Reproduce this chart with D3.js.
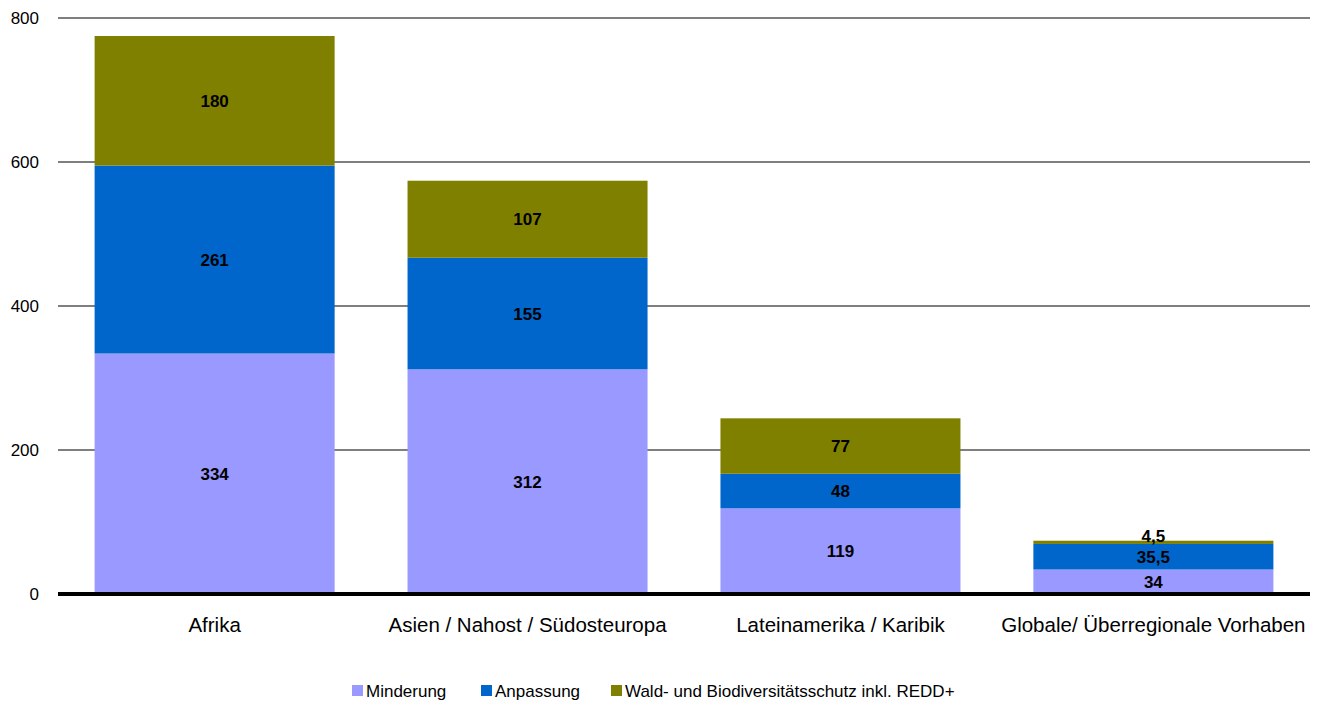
<!DOCTYPE html>
<head>
  <meta charset="utf-8">
  <style>
    body { margin: 0; background: #fff; }
    text { font-family: "Liberation Sans", Arial, sans-serif; }
    .val { font-family: "Liberation Sans Narrow", "Liberation Sans", Arial, sans-serif; font-weight: bold; font-size: 17px; text-anchor: middle; }
  </style>
</head>
<body>
  <script src="https://cdn.jsdelivr.net/npm/d3@7/dist/d3.min.js"></script>
  <script>
    var categories = ["Afrika", "Asien / Nahost / Südosteuropa", "Lateinamerika / Karibik", "Globale/ Überregionale Vorhaben"];
    var seriesNames = ["Minderung", "Anpassung", "Wald- und Biodiversitätsschutz inkl. REDD+"];
    var minderung = [334, 312, 119, 34];
    var anpassung = [261, 155, 48, 35.5];
    var wald = [180, 107, 77, 4.5];
    var yTicks = [0, 200, 400, 600, 800];
    var colors = ["#9999FF", "#0066CC", "#808000"];

    var width = 1325, height = 706;
    var plotLeft = 58, plotRight = 1310, plotTop = 18, plotBottom = 594;

    var svg = d3.select("body").append("svg")
      .attr("width", width)
      .attr("height", height);

    var x = d3.scaleBand()
      .domain(categories)
      .range([plotLeft, plotRight])
      .paddingInner(0.233)
      .paddingOuter(0.117);
    var y = d3.scaleLinear()
      .domain([0, 800])
      .range([plotBottom, plotTop]);

    // gridlines
    svg.append("g")
      .selectAll("line")
      .data(yTicks.slice(1))
      .enter().append("line")
      .attr("x1", plotLeft).attr("x2", plotRight)
      .attr("y1", function(d) { return y(d); })
      .attr("y2", function(d) { return y(d); })
      .attr("stroke", "#555")
      .attr("stroke-width", 1.3);

    // y tick labels
    svg.append("g")
      .selectAll("text")
      .data(yTicks)
      .enter().append("text")
      .attr("x", 39)
      .attr("y", function(d) { return y(d) + 6; })
      .attr("text-anchor", "end")
      .style("font-size", "17px")
      .text(function(d) { return d; });

    // stack
    var rows = categories.map(function(c, i) {
      return { cat: c, s0: minderung[i], s1: anpassung[i], s2: wald[i] };
    });
    var stack = d3.stack().keys(["s0", "s1", "s2"])(rows);

    var fmt = function(v) { return String(v).replace(".", ","); };

    stack.forEach(function(layer, k) {
      svg.append("g")
        .selectAll("rect")
        .data(layer)
        .enter().append("rect")
        .attr("x", function(d) { return x(d.data.cat); })
        .attr("width", x.bandwidth())
        .attr("y", function(d) { return y(d[1]); })
        .attr("height", function(d) { return y(d[0]) - y(d[1]); })
        .attr("fill", colors[k]);
    });

    stack.forEach(function(layer, k) {
      svg.append("g")
        .selectAll("text")
        .data(layer)
        .enter().append("text")
        .attr("class", "val")
        .attr("x", function(d) { return x(d.data.cat) + x.bandwidth() / 2; })
        .attr("y", function(d) {
          var mid = (y(d[0]) + y(d[1])) / 2;
          if (d[1] - d[0] < 10) mid = y(d[1]) - 5;
          return mid + 6;
        })
        .text(function(d) { return fmt(d[1] - d[0]); });
    });

    // zero line
    svg.append("line")
      .attr("x1", plotLeft).attr("x2", plotRight)
      .attr("y1", y(0)).attr("y2", y(0))
      .attr("stroke", "#000")
      .attr("stroke-width", 4);

    // category labels
    svg.append("g")
      .selectAll("text")
      .data(categories)
      .enter().append("text")
      .attr("x", function(d) { return x(d) + x.bandwidth() / 2; })
      .attr("y", 632)
      .attr("text-anchor", "middle")
      .style("font-size", "20.5px")
      .text(function(d) { return d; });

    // legend
    var legendX = [352, 481, 611];
    var legend = svg.append("g")
      .selectAll("g")
      .data(seriesNames)
      .enter().append("g")
      .attr("transform", function(d, i) { return "translate(" + legendX[i] + ",685)"; });
    legend.append("rect")
      .attr("width", 11).attr("height", 11)
      .attr("fill", function(d, i) { return colors[i]; });
    legend.append("text")
      .attr("x", 14)
      .attr("y", 12)
      .style("font-size", "17px")
      .text(function(d) { return d; });
  </script>
</body>
